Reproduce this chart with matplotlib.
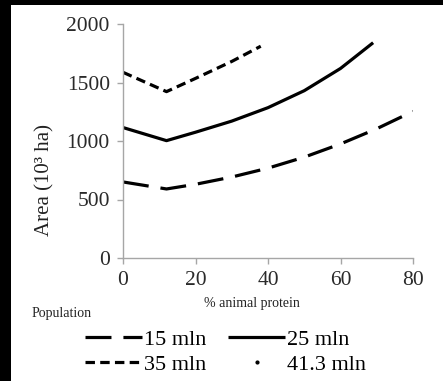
import matplotlib
matplotlib.use("Agg")
import matplotlib.pyplot as plt
from matplotlib.patches import Rectangle

plt.rcParams['font.family'] = ['Liberation Serif', 'DejaVu Serif']
plt.rcParams['lines.scale_dashes'] = False

# data
x15 = [0, 12, 20, 30, 40, 50, 60, 70, 80]
y15 = [650, 590, 630, 692, 768, 862, 975, 1105, 1253]
x25 = [0, 12, 20, 30, 40, 50, 60, 69]
y25 = [1115, 1003, 1075, 1170, 1285, 1430, 1620, 1840]
x35 = [0, 12, 20, 30, 38]
y35 = [1587, 1422, 1535, 1680, 1810]
x41 = []
y41 = []
labels = ['15 mln', '25 mln', '35 mln', '41.3 mln']
xticks = [0, 20, 40, 60, 80]
yticks = [0, 500, 1000, 1500, 2000]

W, H = 443, 381
fig = plt.figure(figsize=(W / 100, H / 100), dpi=100)
fig.patch.set_facecolor('white')

def fx(px):
    return px / W

def fy(py):
    return 1 - py / H

ax = fig.add_axes([fx(123), fy(258), fx(413) - fx(123), fy(24) - fy(258)])

lw = 2.3
l15, = ax.plot(x15, y15, color='black', lw=lw, dashes=(18.7, 8.6), solid_capstyle='butt')
l25, = ax.plot(x25, y25, color='black', lw=lw, solid_capstyle='butt')
l35, = ax.plot(x35, y35, color='black', lw=lw, dashes=(6.8, 3.8))
l41, = ax.plot(x41, y41, color='black', ls='none', marker='.', markersize=4)

ax.set_xlim(0, 80)
ax.set_ylim(0, 2000)
ax.set_xticks(xticks)
ax.set_yticks(yticks)
for s in ['top', 'right']:
    ax.spines[s].set_visible(False)
for s in ['left', 'bottom']:
    ax.spines[s].set_color('#a6a6a6')
    ax.spines[s].set_linewidth(1.0)
ax.tick_params(axis='both', direction='out', length=4.5, width=1.0, color='#a6a6a6',
               labelsize=15.5, labelcolor='#2a2a2a')
ax.tick_params(axis='y', pad=5)
ax.tick_params(axis='x', pad=5)

fig.text(fx(45), fy(180), 'Area (10³ ha)', rotation=90, ha='center', va='center',
         fontsize=15, color='#222222')
fig.text(fx(252), fy(304), '% animal protein', ha='center', va='center', fontsize=10, color='#222222')
fig.text(fx(32), fy(314), 'Population', ha='left', va='center', fontsize=10, color='#222222')

fig.legend([l15, l35, l25, l41], [labels[0], labels[2], labels[1], labels[3]],
           ncol=2, loc='upper left', bbox_to_anchor=(fx(85), fy(329)),
           frameon=False, fontsize=16, handlelength=2.55, handletextpad=0.1,
           columnspacing=1.0, labelspacing=0.2, borderpad=0, borderaxespad=0)

# black borders of the reference image
fig.patches.append(Rectangle((0, 0), fx(11), 1, transform=fig.transFigure,
                             facecolor='black', edgecolor='none', zorder=10))
fig.patches.append(Rectangle((0, fy(5)), 1, 1 - fy(5), transform=fig.transFigure,
                             facecolor='black', edgecolor='none', zorder=10))

fig.savefig('out.png', dpi=100, facecolor='white')
